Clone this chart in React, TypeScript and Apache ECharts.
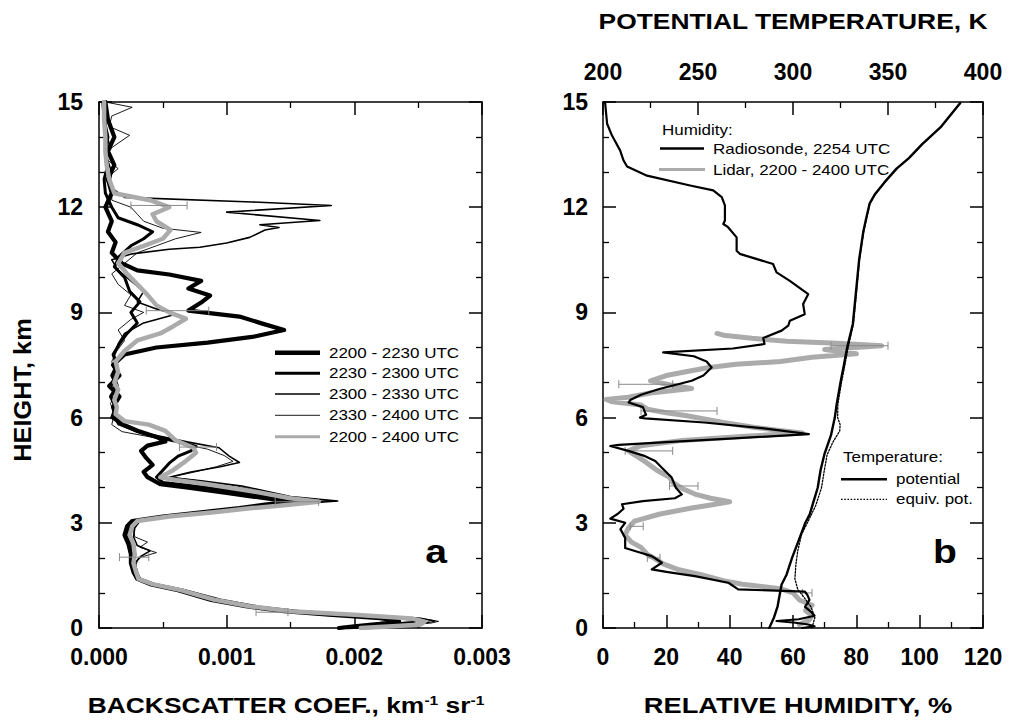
import React, { useEffect, useRef } from "react";
import * as echarts from "echarts";

// ---- Panel a: backscatter coefficient (units of 0.001 km^-1 sr^-1) vs height (km)
const bsc2200_2230: [number, number][] = [
  [1.88,0.0],[2.0,0.05],[2.2,0.12],[2.35,0.2],[2.2,0.28],[1.8,0.38],[1.45,0.48],[1.15,0.62],[0.88,0.8],[0.62,1.08],[0.4,1.25],[0.3,1.4],[0.27,1.6],[0.25,1.85],[0.25,2.1],[0.23,2.4],[0.2,2.65],[0.22,2.9],[0.26,3.05],[0.5,3.18],[0.8,3.3],[1.1,3.42],[1.3,3.52],[1.5,3.6],[1.3,3.7],[1.0,3.85],[0.7,4.0],[0.48,4.1],[0.38,4.3],[0.35,4.45],[0.42,4.65],[0.37,4.85],[0.33,5.05],[0.38,5.2],[0.52,5.32],[0.45,5.45],[0.32,5.6],[0.2,5.78],[0.14,6.0],[0.11,6.3],[0.16,6.6],[0.08,6.9],[0.16,7.2],[0.11,7.5],[0.2,7.8],[0.45,8.0],[0.85,8.14],[1.2,8.3],[1.45,8.5],[1.28,8.68],[1.1,8.88],[0.7,9.05],[0.8,9.28],[0.87,9.48],[0.7,9.68],[0.8,9.9],[0.55,10.08],[0.3,10.2],[0.18,10.4],[0.1,10.7],[0.13,11.0],[0.07,11.3],[0.1,11.6],[0.05,12.0],[0.1,12.4],[0.07,12.8],[0.12,13.2],[0.07,13.6],[0.12,14.0],[0.07,14.5],[0.05,15]
];
const bsc2230_2300: [number, number][] = [
  [1.95,0.0],[2.2,0.08],[2.45,0.16],[2.5,0.24],[2.1,0.34],[1.6,0.46],[1.25,0.6],[0.95,0.8],[0.66,1.08],[0.43,1.25],[0.32,1.4],[0.29,1.6],[0.27,1.85],[0.27,2.1],[0.26,2.4],[0.21,2.65],[0.24,2.9],[0.28,3.05],[0.52,3.18],[0.85,3.3],[1.15,3.42],[1.4,3.52],[1.6,3.62],[1.4,3.72],[1.05,3.9],[0.75,4.05],[0.5,4.15],[0.45,4.3],[0.5,4.5],[0.55,4.7],[0.62,4.9],[0.72,5.05],[0.76,5.18],[0.65,5.3],[0.45,5.45],[0.3,5.6],[0.18,5.8],[0.1,6.0],[0.13,6.3],[0.09,6.6],[0.14,6.9],[0.1,7.2],[0.14,7.5],[0.11,7.8],[0.16,8.1],[0.22,8.4],[0.3,8.7],[0.25,9.0],[0.32,9.3],[0.24,9.6],[0.2,10.0],[0.12,10.3],[0.16,10.6],[0.25,10.9],[0.35,11.1],[0.42,11.3],[0.3,11.5],[0.15,11.7],[0.1,12.0],[0.05,12.4],[0.04,12.8],[0.07,13.2],[0.05,13.6],[0.07,14.0],[0.04,14.5],[0.03,15]
];
const bsc2300_2330: [number, number][] = [
  [2.0,0.0],[2.3,0.07],[2.55,0.14],[2.63,0.2],[2.52,0.28],[2.05,0.38],[1.55,0.48],[1.2,0.62],[0.92,0.81],[0.65,1.08],[0.42,1.25],[0.32,1.4],[0.3,1.6],[0.28,1.85],[0.33,2.05],[0.4,2.2],[0.3,2.35],[0.27,2.6],[0.28,2.85],[0.32,3.05],[0.6,3.2],[0.95,3.32],[1.3,3.45],[1.6,3.55],[1.87,3.62],[1.5,3.75],[1.12,4.05],[0.8,4.2],[0.55,4.3],[0.72,4.45],[0.95,4.6],[1.1,4.72],[1.02,4.9],[0.94,5.14],[0.7,5.3],[0.5,5.45],[0.3,5.6],[0.15,5.8],[0.12,6.0],[0.14,6.3],[0.1,6.6],[0.15,6.9],[0.12,7.2],[0.14,7.5],[0.12,7.8],[0.15,8.1],[0.2,8.4],[0.35,8.7],[0.6,8.95],[0.45,9.1],[0.3,9.3],[0.35,9.6],[0.25,9.9],[0.15,10.2],[0.1,10.5],[0.26,10.67],[0.55,10.8],[0.79,10.86],[1.0,10.98],[1.18,11.14],[1.3,11.35],[1.41,11.42],[1.26,11.5],[1.73,11.62],[1.0,11.86],[1.82,12.05],[1.2,12.15],[0.2,12.28],[0.08,12.6],[0.1,13.0],[0.06,13.4],[0.08,13.8],[0.05,14.2],[0.06,14.6],[0.04,15]
];
const bsc2330_2400: [number, number][] = [
  [2.05,0.0],[2.35,0.07],[2.6,0.14],[2.66,0.19],[2.5,0.28],[2.0,0.38],[1.52,0.48],[1.18,0.62],[0.9,0.81],[0.64,1.08],[0.42,1.25],[0.32,1.4],[0.3,1.6],[0.29,1.8],[0.31,2.0],[0.45,2.15],[0.32,2.3],[0.38,2.45],[0.28,2.6],[0.27,2.85],[0.33,3.05],[0.62,3.2],[1.0,3.33],[1.35,3.46],[1.65,3.56],[1.8,3.63],[1.45,3.76],[1.08,4.05],[0.78,4.2],[0.56,4.3],[0.75,4.45],[0.92,4.6],[1.05,4.75],[0.98,4.92],[0.85,5.1],[0.62,5.28],[0.4,5.45],[0.18,5.6],[0.1,5.8],[0.12,6.1],[0.09,6.4],[0.13,6.7],[0.1,7.0],[0.12,7.3],[0.1,7.6],[0.14,7.9],[0.2,8.2],[0.15,8.5],[0.25,8.8],[0.35,9.0],[0.2,9.2],[0.25,9.5],[0.15,9.8],[0.1,10.1],[0.2,10.4],[0.3,10.7],[0.45,10.9],[0.6,11.1],[0.8,11.28],[0.5,11.4],[0.35,11.6],[0.3,11.8],[0.25,12.0],[0.1,12.2],[0.1,12.5],[0.05,12.8],[0.15,13.1],[0.05,13.4],[0.1,13.7],[0.24,14.05],[0.08,14.3],[0.1,14.6],[0.26,14.85],[0.05,15]
];
const bscMean2200_2400: [number, number][] = [
  [2.05,0.0],[2.3,0.05],[2.52,0.1],[2.55,0.18],[2.45,0.27],[2.0,0.38],[1.5,0.48],[1.18,0.62],[0.9,0.81],[0.64,1.08],[0.42,1.25],[0.31,1.4],[0.29,1.6],[0.27,1.85],[0.28,2.1],[0.27,2.4],[0.24,2.65],[0.26,2.9],[0.3,3.05],[0.55,3.18],[0.9,3.3],[1.2,3.42],[1.45,3.5],[1.72,3.6],[1.5,3.7],[1.2,3.9],[0.85,4.1],[0.6,4.22],[0.48,4.3],[0.58,4.5],[0.68,4.76],[0.76,5.0],[0.74,5.14],[0.6,5.35],[0.52,5.62],[0.39,5.8],[0.2,5.9],[0.13,6.1],[0.14,6.3],[0.12,6.5],[0.15,6.8],[0.12,7.0],[0.15,7.3],[0.13,7.6],[0.2,7.9],[0.3,8.2],[0.48,8.4],[0.58,8.6],[0.68,8.82],[0.55,9.0],[0.45,9.2],[0.38,9.5],[0.3,9.8],[0.22,10.1],[0.15,10.4],[0.2,10.7],[0.35,10.9],[0.5,11.1],[0.56,11.35],[0.45,11.6],[0.42,11.8],[0.55,12.0],[0.4,12.2],[0.12,12.4],[0.08,12.8],[0.06,13.2],[0.05,13.6],[0.05,14.0],[0.04,14.5],[0.04,15]
];
// error bars of the mean: [low, high, height]
const bscErrorBars: [number, number, number][] = [
  [1.23, 1.48, 0.45],[0.16, 0.39, 2.02],[1.38, 1.72, 3.6],[0.63, 0.92, 5.16],[0.37, 0.86, 9.05],[0.25, 0.69, 12.05]
];

// ---- Panel b: relative humidity (%) and potential temperature (K) vs height (km)
const rhRadiosonde: [number, number][] = [
  [62.8,0.0],[66.8,0.05],[64.8,0.1],[60.8,0.15],[54.8,0.2],[61.8,0.25],[66.8,0.35],[65.8,0.45],[63.8,0.6],[65.2,0.8],[64.5,0.95],[63.7,1.04],[42.7,1.1],[39.6,1.29],[29,1.48],[20,1.6],[15.4,1.67],[18.6,1.86],[15.4,2.05],[10.6,2.18],[7,2.28],[7,2.57],[5.5,2.82],[7,3.0],[2.3,3.12],[4.6,3.25],[6.5,3.4],[6,3.53],[12.6,3.62],[22.7,3.7],[24.9,3.81],[23,4.0],[21.7,4.29],[18.6,4.57],[16.5,4.76],[13.3,4.9],[8,5.05],[2.3,5.19],[5,5.22],[20,5.3],[40,5.4],[65,5.53],[50,5.7],[32,5.86],[13.3,5.98],[11.7,6.0],[13.6,6.08],[13.3,6.14],[12.6,6.3],[8.1,6.43],[8.6,6.5],[12,6.65],[17.5,6.81],[28,7.05],[31.7,7.2],[34.3,7.43],[32.7,7.6],[28.7,7.75],[19,7.86],[41,7.97],[51,8.1],[50.6,8.27],[56.4,8.48],[58.5,8.62],[59,8.76],[63.7,8.95],[63.2,9.24],[64.8,9.52],[59,9.9],[54.8,10.14],[53.7,10.38],[43.2,10.67],[42.2,10.76],[42.2,11.14],[39.5,11.43],[38,11.52],[38.5,11.62],[38.5,12.05],[37.5,12.29],[34.8,12.48],[27.5,12.62],[13.9,12.9],[7.6,13.16],[6.5,13.33],[5.4,13.62],[2.8,14.05],[1.3,14.38],[0.7,14.95],[0.6,15]
];
const rhLidar: [number, number][] = [
  [62,0.1],[65,0.22],[66,0.35],[64,0.5],[66,0.65],[62,0.8],[60,1.0],[56,1.12],[44,1.25],[38,1.35],[31,1.52],[24,1.66],[19,1.83],[16,2.0],[14,2.1],[12,2.3],[9,2.45],[7,2.65],[8,2.85],[10,3.05],[18,3.25],[28,3.42],[35,3.52],[40,3.6],[34,3.7],[29,3.82],[25,3.98],[22,4.15],[21,4.3],[17,4.5],[14,4.7],[11,4.88],[8,5.05],[12,5.2],[25,5.35],[45,5.47],[63,5.56],[55,5.64],[48,5.72],[38,5.86],[32,5.96],[26,6.06],[20,6.14],[14,6.24],[12,6.36],[3,6.45],[1,6.52],[8,6.58],[15,6.7],[28,6.83],[22,6.92],[15,7.05],[20,7.2],[27,7.32],[33,7.42],[42,7.52],[56,7.6],[66,7.72],[80,7.82],[70,7.94],[88,8.05],[74,8.12],[58,8.18],[47,8.26],[38,8.35],[36,8.4]
];
const rhLidarErrorBars: [number, number, number][] = [
  [63, 66, 1.0],[14, 18, 2.0],[8.6, 12.7, 2.9],[21, 30, 4.05],[7, 22, 5.05],[12, 36, 6.19],[5, 22, 6.95],[72, 90, 8.05]
];
const thetaPotential: [number, number][] = [
  [287.5,0.0],[290,0.3],[291.9,0.62],[293,0.95],[294,1.24],[296.6,1.52],[299.5,2.0],[303,2.5],[306.5,3.0],[308.8,3.24],[310.6,3.57],[313,4.0],[314.5,4.5],[316.5,4.95],[320,5.5],[322,6.0],[323,6.38],[325,7.0],[326.8,7.5],[328.5,8.0],[331.5,8.67],[333,9.5],[334.8,10.5],[337,11.3],[338.6,11.7],[340.3,12.1],[343,12.36],[348,12.7],[354.5,13.1],[361,13.4],[368,13.8],[378,14.3],[388,14.97]
];
const thetaEquivalent: [number, number][] = [
  [310,0.0],[311.5,0.3],[309.5,0.6],[306,0.86],[302.5,1.1],[301,1.4],[301.5,1.8],[302.5,2.2],[304.5,2.67],[308.5,3.1],[312,3.5],[315,4.0],[316.5,4.5],[318,4.95],[321,5.3],[324.6,5.62],[324.8,5.8],[323.5,6.0],[323.6,6.38],[325.5,7.0],[327.3,7.5],[329,8.0],[331.8,8.67],[333.3,9.5],[335,10.5],[337.2,11.3],[338.8,11.7],[340.5,12.1],[343.2,12.36],[348.2,12.7],[354.7,13.1],[361.2,13.4],[368.2,13.8],[378.2,14.3],[388.2,14.97]
];

// tick labels
const heightTicks = { min: 0, max: 15, interval: 3 };
const bscTicks = { min: 0, max: 3, interval: 1 };
const rhTicks = { min: 0, max: 120, interval: 20 };
const thetaTicks = { min: 200, max: 400, interval: 50 };

const bscLegend = ["2200 - 2230 UTC", "2230 - 2300 UTC", "2300 - 2330 UTC", "2330 - 2400 UTC", "2200 - 2400 UTC"];

const FONT = '"Liberation Sans", Arial, Helvetica, sans-serif';
const GRAY = "#ababab";

function axis(opts: any) {
  return {
    type: "value",
    min: opts.min,
    max: opts.max,
    interval: opts.interval,
    position: opts.position,
    gridIndex: opts.gridIndex,
    axisLine: { show: true, onZero: false, lineStyle: { color: "#000", width: 1.5 } },
    axisTick: { show: true, inside: true, length: 13, lineStyle: { color: "#000", width: 1.5 } },
    minorTick: { show: true, splitNumber: opts.minor, length: 6, lineStyle: { color: "#000", width: 1.3 } },
    splitLine: { show: false },
    minorSplitLine: { show: false },
    axisLabel: {
      show: !!opts.label,
      margin: opts.margin ?? 16,
      color: "#000",
      fontFamily: FONT,
      fontWeight: "bold",
      fontSize: 23,
      formatter: opts.formatter,
    },
  };
}

function errorBarSeries(data: [number, number, number][], xi: number, yi: number) {
  return {
    type: "custom",
    xAxisIndex: xi,
    yAxisIndex: yi,
    data,
    encode: { x: [0, 1], y: 2 },
    z: 5,
    silent: true,
    renderItem: (_params: any, api: any) => {
      const h = api.value(2);
      const a = api.coord([api.value(0), h]);
      const b = api.coord([api.value(1), h]);
      const st = { stroke: "#8a8a8a", lineWidth: 1 };
      return {
        type: "group",
        children: [
          { type: "line", shape: { x1: a[0], y1: a[1], x2: b[0], y2: b[1] }, style: st },
          { type: "line", shape: { x1: a[0], y1: a[1] - 4, x2: a[0], y2: a[1] + 4 }, style: st },
          { type: "line", shape: { x1: b[0], y1: b[1] - 4, x2: b[0], y2: b[1] + 4 }, style: st },
        ],
      };
    },
  };
}

function line(data: [number, number][], xi: number, yi: number, color: string, width: number, type: any = "solid", z = 3) {
  return {
    type: "line",
    xAxisIndex: xi,
    yAxisIndex: yi,
    data,
    symbol: "none",
    silent: true,
    z,
    lineStyle: { color, width, type, join: "round", cap: "round" },
  };
}

function txt(text: string, x: number, y: number, size: number, opts: any = {}) {
  return {
    type: "text",
    x,
    y,
    scaleX: opts.scaleX ?? 1,
    rotation: opts.rotation ?? 0,
    silent: true,
    z: 20,
    style: {
      text,
      fill: "#000",
      fontFamily: FONT,
      fontSize: size,
      fontWeight: opts.bold ? "bold" : "normal",
      textAlign: opts.align ?? "left",
      textVerticalAlign: "middle",
      rich: opts.rich,
    },
  };
}

function legLine(x1: number, x2: number, y: number, color: string, width: number, dash?: number[]) {
  return {
    type: "line",
    silent: true,
    z: 20,
    shape: { x1, y1: y, x2, y2: y },
    style: { stroke: color, lineWidth: width, lineDash: dash },
  };
}

export default function App() {
  const ref = useRef<HTMLDivElement>(null);
  useEffect(() => {
    if (!ref.current) return;
    const chart = echarts.init(ref.current, null, { renderer: "svg" });
    const legRows = [352.7, 373.3, 394, 415.3, 436.7];
    const legW = [4.5, 3, 1.6, 0.9, 3];
    const legC = ["#000", "#000", "#000", "#000", GRAY];
    const supRich = {
      n: { fontFamily: FONT, fontSize: 22, fontWeight: "bold", fill: "#000", verticalAlign: "bottom" },
      s: { fontFamily: FONT, fontSize: 13, fontWeight: "bold", fill: "#000", verticalAlign: "top" },
    };
    const option: any = {
      animation: false,
      backgroundColor: "#fff",
      grid: [
        { left: 99, top: 102, width: 383, height: 526, outerBoundsMode: "none" },
        { left: 603, top: 102, width: 380, height: 526, outerBoundsMode: "none" },
      ],
      xAxis: [
        axis({ ...bscTicks, gridIndex: 0, position: "bottom", minor: 2, label: true, margin: 17, formatter: (v: number) => (v / 1000).toFixed(3) }),
        axis({ ...bscTicks, gridIndex: 0, position: "top", minor: 2, label: false }),
        axis({ ...rhTicks, gridIndex: 1, position: "bottom", minor: 2, label: true, margin: 17 }),
        axis({ ...thetaTicks, gridIndex: 1, position: "top", minor: 2, label: true, margin: 19 }),
      ],
      yAxis: [
        axis({ ...heightTicks, gridIndex: 0, position: "left", minor: 3, label: true, margin: 16 }),
        axis({ ...heightTicks, gridIndex: 0, position: "right", minor: 3, label: false }),
        axis({ ...heightTicks, gridIndex: 1, position: "left", minor: 3, label: true, margin: 15 }),
        axis({ ...heightTicks, gridIndex: 1, position: "right", minor: 3, label: false }),
      ],
      series: [
        line(bsc2200_2230, 0, 0, "#000", 4.2),
        line(bsc2230_2300, 0, 0, "#000", 3),
        line(bsc2300_2330, 0, 0, "#000", 1.6),
        line(bsc2330_2400, 0, 0, "#000", 0.9),
        line(bscMean2200_2400, 0, 0, GRAY, 4.5, "solid", 4),
        errorBarSeries(bscErrorBars, 0, 0),
        line(rhLidar, 2, 2, GRAY, 5, "solid", 2),
        errorBarSeries(rhLidarErrorBars, 2, 2),
        line(rhRadiosonde, 2, 2, "#000", 2.2, "solid", 6),
        line(thetaPotential, 3, 2, "#000", 2.4, "solid", 6),
        line(thetaEquivalent, 3, 2, "#000", 1.3, [1.6, 1.6], 6),
      ],
      graphic: [
        txt("POTENTIAL TEMPERATURE, K", 793, 21, 22, { bold: true, align: "center", scaleX: 1.2 }),
        txt("{n|BACKSCATTER COEF., km}{s|-1}{n| sr}{s|-1}", 286, 705, 22, { bold: true, align: "center", scaleX: 1.2, rich: supRich }),
        txt("RELATIVE HUMIDITY, %", 798, 705, 22, { bold: true, align: "center", scaleX: 1.24 }),
        txt("HEIGHT, km", 23, 390, 23, { bold: true, align: "center", scaleX: 1.1, rotation: Math.PI / 2 }),
        txt("a", 436, 551, 34, { bold: true, align: "center", scaleX: 1.15 }),
        txt("b", 945, 551, 34, { bold: true, align: "center", scaleX: 1.15 }),
        ...legRows.map((y, i) => legLine(275, 320, y, legC[i], legW[i])),
        ...legRows.map((y, i) => txt(bscLegend[i], 329, y, 14.5, { scaleX: 1.17 })),
        txt("Humidity:", 662, 130, 14.5, { scaleX: 1.17 }),
        legLine(660, 704, 148.5, "#000", 2.5),
        txt("Radiosonde, 2254 UTC", 713, 148.5, 14.5, { scaleX: 1.17 }),
        legLine(659, 705, 169.5, GRAY, 3),
        txt("Lidar, 2200 - 2400 UTC", 713, 169.5, 14.5, { scaleX: 1.17 }),
        txt("Temperature:", 843, 457, 14.5, { scaleX: 1.17 }),
        legLine(841, 887, 479.3, "#000", 2.5),
        txt("potential", 896, 479.3, 14.5, { scaleX: 1.17 }),
        legLine(841, 887, 499.3, "#000", 1.2, [1.6, 1.6]),
        txt("equiv. pot.", 896, 499.3, 14.5, { scaleX: 1.17 }),
      ],
    };
    chart.setOption(option);
    return () => chart.dispose();
  }, []);
  return (
    <div
      ref={ref}
      style={{ position: "fixed", left: 0, top: 0, width: 1009, height: 720, background: "#fff" }}
    />
  );
}
